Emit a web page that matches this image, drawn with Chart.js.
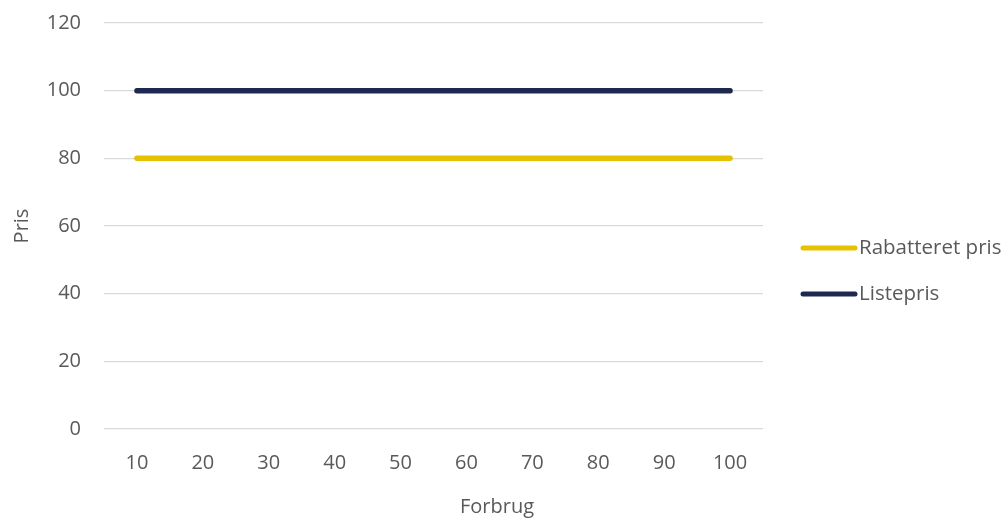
<!DOCTYPE html>
<html>
<head>
<meta charset="utf-8">
<script src="https://cdn.jsdelivr.net/npm/chart.js@4.4.1/dist/chart.umd.min.js"></script>
<style>
  html, body { margin: 0; padding: 0; background: #ffffff; }
  #wrap { width: 1008px; height: 519px; position: relative; }
</style>
</head>
<body>
<div id="wrap"><canvas id="chart" width="1008" height="519"></canvas></div>
<script>
const categories = ['10', '20', '30', '40', '50', '60', '70', '80', '90', '100'];
const rabatteretPris = [80, 80, 80, 80, 80, 80, 80, 80, 80, 80];
const listepris = [100, 100, 100, 100, 100, 100, 100, 100, 100, 100];
const seriesNames = ['Rabatteret pris', 'Listepris'];
const seriesColors = ['#E6C100', '#1F2950'];
const yTitle = 'Pris';
const xTitle = 'Forbrug';

const FONT = '"Open Sans", "Liberation Sans", sans-serif';
const TEXT = '#595959';

// Axis titles and the side legend
const extras = {
  id: 'extras',
  afterDraw(chart) {
    const ctx = chart.ctx;
    ctx.save();
    ctx.fillStyle = TEXT;
    ctx.font = '20px ' + FONT;
    ctx.textAlign = 'center';
    ctx.textBaseline = 'middle';
    ctx.fillText(xTitle, 497, 507);
    ctx.save();
    ctx.translate(22, 226);
    ctx.rotate(-Math.PI / 2);
    ctx.fillText(yTitle, 0, 0);
    ctx.restore();

    const rows = [248, 294];
    chart.data.datasets.forEach((ds, i) => {
      const y = rows[i];
      ctx.strokeStyle = ds.borderColor;
      ctx.lineWidth = 5;
      ctx.lineCap = 'round';
      ctx.beginPath();
      ctx.moveTo(803, y);
      ctx.lineTo(855, y);
      ctx.stroke();
      ctx.textAlign = 'left';
      ctx.fillStyle = TEXT;
      ctx.font = '20.5px ' + FONT;
      ctx.fillText(ds.label, 859, y);
    });
    ctx.restore();
  }
};

new Chart(document.getElementById('chart'), {
  type: 'line',
  data: {
    labels: categories,
    datasets: [
      { label: seriesNames[0], data: rabatteretPris, borderColor: seriesColors[0], backgroundColor: seriesColors[0] },
      { label: seriesNames[1], data: listepris, borderColor: seriesColors[1], backgroundColor: seriesColors[1] }
    ]
  },
  options: {
    responsive: false,
    animation: false,
    devicePixelRatio: 1,
    layout: { padding: { top: 23, right: 245, bottom: 0, left: 0 } },
    elements: {
      line: { borderWidth: 5.5, borderCapStyle: 'round', tension: 0 },
      point: { radius: 0, hoverRadius: 0 }
    },
    plugins: { legend: { display: false }, tooltip: { enabled: false } },
    scales: {
      x: {
        offset: true,
        grid: { display: false, drawTicks: false },
        border: { display: false },
        ticks: { color: TEXT, font: { family: FONT, size: 20 }, padding: 22, maxRotation: 0 },
        afterFit(s) { s.height = 90; s.paddingLeft = 0; s.paddingRight = 0; }
      },
      y: {
        min: 0, max: 120,
        ticks: { stepSize: 20, color: TEXT, font: { family: FONT, size: 20 }, padding: 23 },
        grid: { color: '#D9D9D9', lineWidth: 1.3, drawTicks: false },
        border: { display: false },
        afterFit(s) { s.width = 104; s.paddingTop = 0; s.paddingBottom = 0; }
      }
    }
  },
  plugins: [extras]
});
</script>
</body>
</html>
